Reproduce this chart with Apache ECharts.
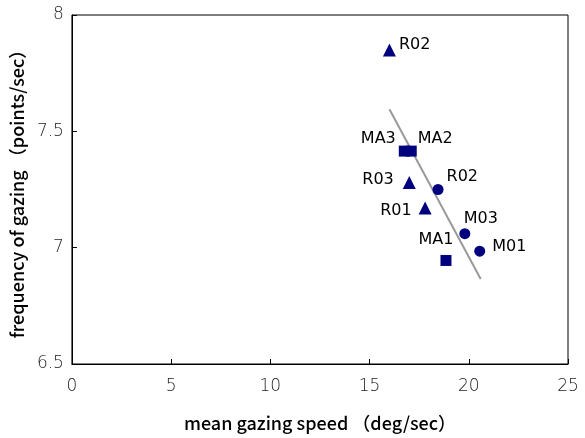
<!DOCTYPE html>
<html>
<head>
<meta charset="utf-8">
<script src="https://cdn.jsdelivr.net/npm/echarts@6/dist/echarts.min.js"></script>
<style>
html,body{margin:0;padding:0;background:#fff;}
#chart{width:585px;height:438px;}
</style>
</head>
<body>
<div id="chart"></div>
<script>
// values
var triNames = ['R02', 'R03', 'R01'];
var triSpeed = [16.0, 17.0, 17.8];
var triFreq  = [7.85, 7.28, 7.17];

var sqNames = ['MA3', 'MA2', 'MA1'];
var sqSpeed = [16.75, 17.1, 18.85];
var sqFreq  = [7.415, 7.415, 6.945];

var ciNames = ['R02', 'M03', 'M01'];
var ciSpeed = [18.45, 19.8, 20.55];
var ciFreq  = [7.25, 7.06, 6.985];

var trendSpeed = [16.0, 20.6];
var trendFreq  = [7.595, 6.865];

var xTicks = [0, 5, 10, 15, 20, 25];
var yTicks = [6.5, 7, 7.5, 8];

// where each label sits relative to its mark
var labelPlace = {
	'tri': [['right', [-2, -5]], ['left', [-4, -3]], ['left', [-2, 3]]],
	'sq':  [['left', [2, -12]], ['right', [-4, -12]], ['top', [-10, -2]]],
	'ci':  [['right', [-2, -13]], ['top', [16, 4]], ['right', [2, -4]]]
};

function pts(names, xs, ys, key){
	var out = [];
	for(var i = 0; i < names.length; i++){
		var p = labelPlace[key][i];
		out.push({
			name: names[i],
			value: [xs[i], ys[i]],
			label: {position: p[0], offset: p[1]}
		});
	}
	return out;
}

var navy = '#00007f';
var labelStyle = {
	show: true,
	formatter: '{b}',
	color: '#000',
	fontSize: 16,
	fontFamily: 'DejaVu Sans'
};

var chart = echarts.init(document.getElementById('chart'));
chart.setOption({
	animation: false,
	grid: {left: 67, right: 17, top: 15, bottom: 74, show: true, borderColor: '#000', borderWidth: 1},
	xAxis: {
		type: 'value', min: 0, max: 25, interval: 5,
		name: 'mean gazing speed （deg/sec）',
		nameLocation: 'middle', nameGap: 50,
		nameTextStyle: {fontSize: 18, color: '#000', fontFamily: 'Noto Sans CJK KR', fontWeight: 500},
		axisLine: {lineStyle: {color: '#000'}},
		axisTick: {inside: true, length: 5, lineStyle: {color: '#000'}},
		axisLabel: {margin: 14, fontSize: 17, color: '#222', fontFamily: 'DejaVu Sans', fontWeight: 300, formatter: function(v){ return xTicks.indexOf(v) >= 0 ? v : ''; }},
		splitLine: {show: false}
	},
	yAxis: {
		type: 'value', min: 6.5, max: 8, interval: 0.5,
		name: 'frequency of gazing （points/sec）',
		nameLocation: 'middle', nameGap: 39,
		nameTextStyle: {fontSize: 18, color: '#000', fontFamily: 'Noto Sans CJK KR', fontWeight: 500},
		axisLine: {lineStyle: {color: '#000'}},
		axisTick: {inside: true, length: 5, lineStyle: {color: '#000'}},
		axisLabel: {margin: 8, fontSize: 17, color: '#222', fontFamily: 'DejaVu Sans', fontWeight: 300, formatter: function(v){ return yTicks.indexOf(v) >= 0 ? v : ''; }},
		splitLine: {show: false}
	},
	series: [
		{
			type: 'line',
			data: [[trendSpeed[0], trendFreq[0]], [trendSpeed[1], trendFreq[1]]],
			showSymbol: false,
			lineStyle: {color: '#999', width: 2},
			z: 1
		},
		{
			type: 'scatter', symbol: 'triangle', symbolSize: 13,
			itemStyle: {color: navy, opacity: 1},
			label: labelStyle,
			data: pts(triNames, triSpeed, triFreq, 'tri'),
			z: 3
		},
		{
			type: 'scatter', symbol: 'rect', symbolSize: 11,
			itemStyle: {color: navy, opacity: 1},
			label: labelStyle,
			data: pts(sqNames, sqSpeed, sqFreq, 'sq'),
			z: 3
		},
		{
			type: 'scatter', symbol: 'circle', symbolSize: 11,
			itemStyle: {color: navy, opacity: 1},
			label: labelStyle,
			data: pts(ciNames, ciSpeed, ciFreq, 'ci'),
			z: 3
		}
	]
});
</script>
</body>
</html>
